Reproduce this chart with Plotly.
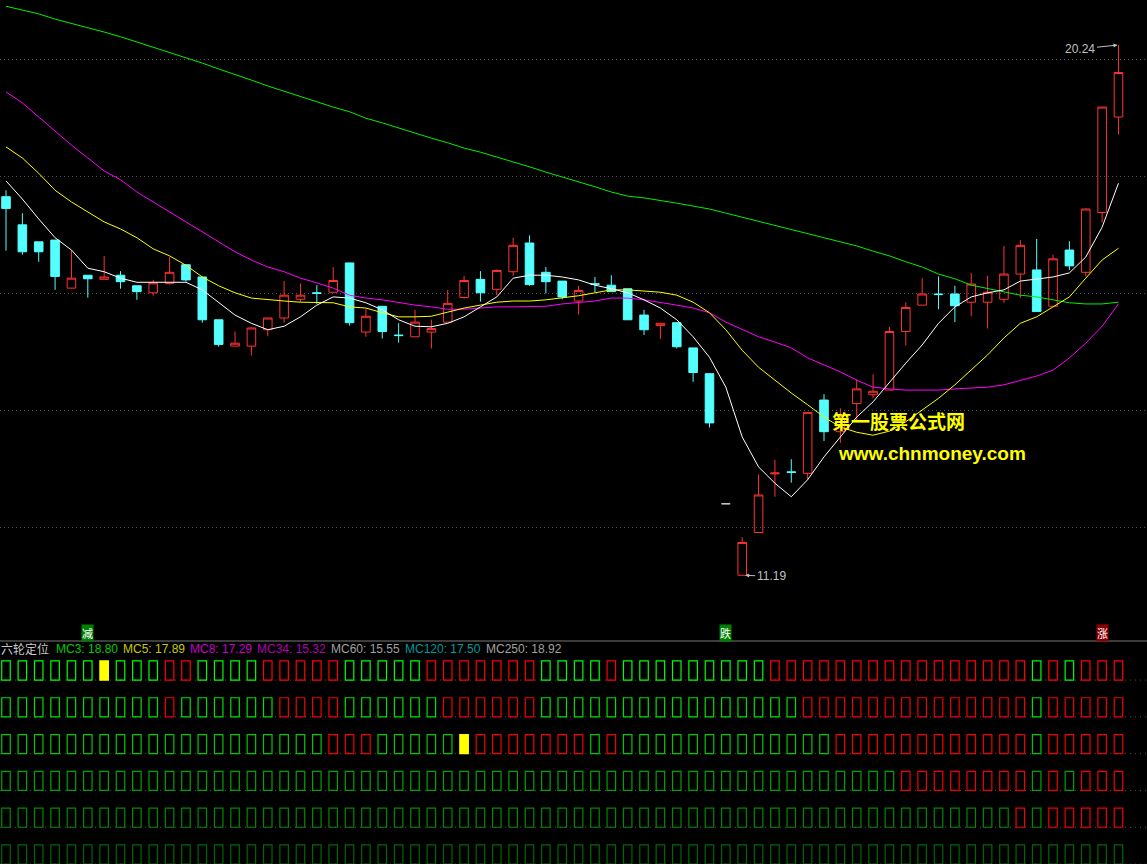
import plotly.graph_objects as go

W, H = 1147, 864

# ---------------- data ----------------
n_bars = 69
x_idx = list(range(n_bars))

opens = [17.65, 17.17, 16.88, 16.91, 16.09, 16.31, 16.24, 16.31, 16.13, 16.01,
         16.17, 16.49, 16.28, 15.55, 15.10, 15.10, 15.38, 15.58, 15.90, 16.01,
         16.02, 16.52, 15.34, 15.78, 15.29, 15.26, 15.34, 15.51, 15.93, 16.24,
         16.07, 16.37, 16.86, 16.36, 16.21, 15.87, 16.165, 16.14, 16.08, 15.63,
         15.45, 15.50, 15.07, 14.63, 12.41, 11.19, 11.92, 12.92, 12.955, 12.93,
         14.18, 13.64, 14.12, 14.27, 14.35, 15.35, 15.80, 15.99, 15.99, 15.85,
         15.85, 15.90, 16.33, 16.40, 15.78, 16.74, 16.36, 17.38, 19.01]
highs = [17.76, 17.37, 16.88, 16.91, 16.74, 16.31, 16.64, 16.38, 16.13, 16.23,
         16.62, 16.49, 16.28, 15.55, 15.35, 15.42, 15.58, 16.21, 16.17, 16.14,
         16.45, 16.52, 15.74, 15.78, 15.49, 15.72, 15.55, 16.06, 16.30, 16.38,
         16.41, 16.95, 16.99, 16.45, 16.21, 16.13, 16.28, 16.31, 16.08, 15.72,
         15.49, 15.50, 15.07, 14.63, 12.41, 11.84, 12.91, 13.16, 13.17, 13.97,
         14.28, 14.04, 14.53, 14.62, 15.43, 15.85, 16.26, 16.29, 16.13, 16.35,
         16.30, 16.81, 16.91, 16.93, 16.66, 16.89, 17.45, 19.18, 20.24]
lows = [16.73, 16.66, 16.54, 16.06, 16.09, 15.93, 16.24, 16.08, 15.89, 15.96,
        16.15, 16.20, 15.50, 15.09, 15.10, 14.94, 15.27, 15.50, 15.85, 15.82,
        16.02, 15.45, 15.26, 15.23, 15.16, 15.26, 15.06, 15.51, 15.91, 15.86,
        15.97, 16.30, 16.13, 16.00, 15.90, 15.64, 16.02, 16.03, 15.55, 15.29,
        15.22, 15.06, 14.49, 13.71, 12.41, 11.19, 11.92, 12.53, 12.77, 12.82,
        13.48, 13.45, 13.81, 14.21, 14.35, 15.11, 15.80, 15.73, 15.51, 15.61,
        15.40, 15.84, 15.92, 15.69, 15.78, 16.40, 16.29, 17.21, 18.71]
closes = [17.45, 16.71, 16.71, 16.29, 16.26, 16.25, 16.28, 16.20, 16.03, 16.18,
          16.36, 16.23, 15.55, 15.13, 15.15, 15.41, 15.58, 15.97, 15.97, 16.00,
          16.22, 15.50, 15.61, 15.35, 15.28, 15.51, 15.40, 15.83, 16.22, 16.01,
          16.39, 16.82, 16.15, 16.20, 15.94, 16.05, 16.155, 16.03, 15.55, 15.38,
          15.49, 15.09, 14.65, 13.79, 12.41, 11.75, 12.56, 12.935, 12.945, 13.97,
          13.64, 13.87, 14.37, 14.33, 15.35, 15.76, 15.99, 15.98, 15.79, 16.16,
          16.02, 16.33, 16.82, 15.69, 16.59, 16.47, 17.44, 19.18, 19.77]

ma_white = [17.92, 17.61, 17.27, 16.95, 16.74, 16.43, 16.37, 16.26, 16.19, 16.19,
            16.19, 16.19, 16.06, 15.84, 15.63, 15.49, 15.38, 15.44, 15.60, 15.80,
            15.94, 15.92, 15.84, 15.72, 15.55, 15.44, 15.43, 15.49, 15.60, 15.77,
            15.94, 16.26, 16.31, 16.31, 16.28, 16.23, 16.14, 16.08, 16.01, 15.89,
            15.75, 15.55, 15.26, 14.91, 14.40, 13.55, 13.04, 12.76, 12.53, 12.82,
            13.21, 13.55, 13.89, 14.15, 14.49, 14.81, 15.12, 15.49, 15.77, 15.94,
            16.01, 16.06, 16.21, 16.25, 16.28, 16.35, 16.62, 17.13, 17.88]
ma_yellow = [18.50, 18.31, 18.05, 17.76, 17.56, 17.39, 17.22, 17.10, 16.95, 16.76,
             16.64, 16.48, 16.28, 16.13, 16.01, 15.92, 15.89, 15.87, 15.85, 15.84,
             15.84, 15.77, 15.75, 15.67, 15.60, 15.60, 15.61, 15.68, 15.75, 15.80,
             15.85, 15.87, 15.87, 15.89, 15.92, 15.96, 16.01, 16.06, 16.06, 16.04,
             16.02, 15.97, 15.85, 15.67, 15.38, 15.03, 14.74, 14.52, 14.30, 14.10,
             13.89, 13.72, 13.63, 13.58, 13.65, 13.81, 14.01, 14.21, 14.44, 14.69,
             14.95, 15.24, 15.49, 15.60, 15.77, 15.94, 16.26, 16.57, 16.77]
ma_magenta = [19.44, 19.25, 19.01, 18.77, 18.53, 18.31, 18.09, 17.94, 17.73, 17.56,
              17.39, 17.22, 17.05, 16.88, 16.71, 16.57, 16.45, 16.37, 16.26, 16.18,
              16.09, 15.97, 15.92, 15.89, 15.84, 15.80, 15.77, 15.73, 15.73, 15.75,
              15.77, 15.77, 15.77, 15.78, 15.82, 15.84, 15.87, 15.92, 15.92, 15.89,
              15.85, 15.80, 15.75, 15.67, 15.51, 15.38, 15.26, 15.17, 15.07, 14.90,
              14.78, 14.66, 14.52, 14.40, 14.37, 14.35, 14.35, 14.35, 14.37, 14.39,
              14.40, 14.44, 14.51, 14.59, 14.69, 14.90, 15.15, 15.44, 15.82]
ma_green = [20.90, 20.84, 20.77, 20.68, 20.61, 20.53, 20.46, 20.38, 20.29, 20.20,
            20.12, 20.03, 19.93, 19.83, 19.74, 19.64, 19.54, 19.45, 19.35, 19.27,
            19.18, 19.10, 18.99, 18.91, 18.82, 18.74, 18.65, 18.57, 18.48, 18.41,
            18.33, 18.24, 18.16, 18.07, 17.99, 17.90, 17.82, 17.73, 17.66, 17.63,
            17.59, 17.54, 17.49, 17.44, 17.37, 17.30, 17.24, 17.17, 17.10, 17.03,
            16.96, 16.89, 16.81, 16.72, 16.64, 16.54, 16.45, 16.33, 16.25, 16.14,
            16.08, 16.02, 15.97, 15.94, 15.89, 15.84, 15.82, 15.82, 15.85]

price_grid = [12, 14, 16, 18, 20]

# six-wheel state rows: G = green, R = red, Y = yellow (filled)
row_states = [
    "GGGGGG" + "Y" + "GGG" + "RR" + "GGGG" + "RRRRR" + "GGGGG" + "RRRRRRR" + "GGGG" + "R"
    + "GGGGGGGGG" + "RRRRRRRRRRRRRRRR" + "G" + "R" + "G" + "RRR",
    "G" * 10 + "R" + "G" * 6 + "R" * 4 + "G" * 6 + "R" * 6 + "G" * 16 + "R" * 14 + "G" + "R" * 5,
    "G" * 20 + "R" * 3 + "G" * 5 + "Y" + "R" * 7 + "G" + "R" + "G" * 13 + "R" * 12 + "G" + "R" * 5,
    "G" * 55 + "R" * 8 + "G" + "R" + "G" + "R" * 3,
    "G" * 62 + "R" + "G" + "R" * 5,
    "G" * 69,
]

legend_names = ["六轮定位", "MC3", "MC5", "MC8", "MC34", "MC60", "MC120", "MC250"]
legend_values = [None, 18.80, 17.89, 17.29, 15.32, 15.55, 17.50, 18.92]

signal_labels = ["减", "跌", "涨"]
signal_index = [5, 44, 67]

high_label = 20.24
low_label = 11.19
high_idx = 68
low_idx = 45

# ---------------- styles ----------------
UP = "#FF3232"
DOWN = "#54FFFF"
row_greens = ["#00FF00", "#00E000", "#00C800", "#00A400", "#008A00", "#006800"]
row_reds = ["#FF0000", "#F00000", "#F00000", "#F00000", "#F00000", "#E00000"]
YEL = "#FFFF00"
legend_colors = ["#C8C8C8", "#00C800", "#C8C800", "#C800C8", "#B000B0", "#A0A0A0", "#009A9A", "#A0A0A0"]
legend_x = [0, 55, 122, 189, 256, 330, 404, 485]
signal_bg = ["#008000", "#008000", "#8B0000"]

fig = go.Figure()

flat = [i for i in x_idx if opens[i] == highs[i] == lows[i] == closes[i]]
normal = [i for i in x_idx if i not in flat]

fig.add_trace(go.Candlestick(
    x=[x_idx[i] for i in normal],
    open=[opens[i] for i in normal], high=[highs[i] for i in normal],
    low=[lows[i] for i in normal], close=[closes[i] for i in normal],
    increasing=dict(line=dict(color=UP, width=1), fillcolor="rgba(0,0,0,0)"),
    decreasing=dict(line=dict(color=DOWN, width=1), fillcolor=DOWN),
    whiskerwidth=0, hoverinfo="skip", showlegend=False, xaxis="x", yaxis="y"))

fig.add_trace(go.Candlestick(
    x=[x_idx[i] for i in flat],
    open=[opens[i] for i in flat], high=[highs[i] for i in flat],
    low=[lows[i] for i in flat], close=[closes[i] for i in flat],
    increasing=dict(line=dict(color="#C8C8C8", width=1), fillcolor="#C8C8C8"),
    decreasing=dict(line=dict(color="#C8C8C8", width=1), fillcolor="#C8C8C8"),
    whiskerwidth=0, hoverinfo="skip", showlegend=False, xaxis="x", yaxis="y"))

for vals, col in [(ma_green, "#00F000"), (ma_magenta, "#FF00FF"),
                  (ma_yellow, "#FFFF00"), (ma_white, "#FFFFFF")]:
    fig.add_trace(go.Scatter(x=x_idx, y=vals, mode="lines",
                             line=dict(color=col, width=1),
                             hoverinfo="skip", showlegend=False, xaxis="x", yaxis="y"))

# lower panel boxes
box_h = 0.52
for k, states in enumerate(row_states):
    line_cols = [row_greens[k] if s == "G" else (row_reds[k] if s == "R" else YEL) for s in states]
    fills = [YEL if s == "Y" else "rgba(0,0,0,0)" for s in states]
    fig.add_trace(go.Bar(
        x=x_idx, y=[box_h] * n_bars, base=[-k - box_h / 2] * n_bars, width=0.52,
        marker=dict(color=fills, line=dict(color=line_cols, width=1.2)),
        hoverinfo="skip", showlegend=False, xaxis="x", yaxis="y2"))

shapes = []
for k in range(len(row_states)):
    shapes.append(dict(type="line", xref="paper", x0=0, x1=1, yref="y2",
                       y0=-k - box_h / 2, y1=-k - box_h / 2,
                       line=dict(color="#505050", width=1, dash="1px,4px"), layer="below"))
shapes.append(dict(type="line", xref="paper", x0=0, x1=1, yref="paper",
                   y0=1 - 641 / H, y1=1 - 641 / H, line=dict(color="#3C3C3C", width=2)))

annotations = []
for name, val, col, xp in zip(legend_names, legend_values, legend_colors, legend_x):
    txt = name if val is None else f"{name}: {val:.2f}"
    annotations.append(dict(text=txt, x=xp / W, y=1 - 649 / H, xref="paper", yref="paper",
                            xanchor="left", yanchor="middle", showarrow=False, borderpad=0,
                            font=dict(family="Liberation Sans, Noto Sans CJK SC", size=12, color=col)))

for lab, idx, bg in zip(signal_labels, signal_index, signal_bg):
    annotations.append(dict(text=lab, x=idx, y=1 - 633 / H, xref="x", yref="paper",
                            xanchor="center", yanchor="middle", showarrow=False,
                            bgcolor=bg, borderpad=0,
                            font=dict(family="Noto Sans CJK SC", size=11, color="#FFFFFF")))

annotations.append(dict(text=f"{high_label:.2f}", x=high_idx, y=high_label, xref="x", yref="y",
                        showarrow=True, ax=-38, ay=4, arrowhead=2, arrowsize=0.8, arrowwidth=1,
                        arrowcolor="#C0C0C0", standoff=1,
                        font=dict(family="Liberation Sans", size=12, color="#C0C0C0")))
annotations.append(dict(text=f"{low_label:.2f}", x=low_idx, y=low_label, xref="x", yref="y",
                        showarrow=True, ax=29, ay=1, arrowhead=2, arrowsize=0.8, arrowwidth=1,
                        arrowcolor="#C0C0C0", standoff=3,
                        font=dict(family="Liberation Sans", size=12, color="#C0C0C0")))

# watermark texts
annotations.append(dict(text="<b>第一股票公式网</b>", x=898.5 / W, y=1 - 420 / H, xref="paper", yref="paper",
                        showarrow=False, xanchor="center", yanchor="middle",
                        font=dict(family="Noto Sans CJK SC", size=19, color="#FFFF00")))
annotations.append(dict(text="<b>www.chnmoney.com</b>", x=931.5 / W, y=1 - 453 / H, xref="paper", yref="paper",
                        showarrow=False, xanchor="center", yanchor="middle",
                        font=dict(family="Liberation Sans", size=19, color="#FFFF00")))

x0 = -6 / 16.36
x1 = (W - 6) / 16.36
fig.update_layout(
    width=W, height=H, margin=dict(l=0, r=0, t=0, b=0),
    paper_bgcolor="#000000", plot_bgcolor="#000000",
    showlegend=False, barmode="overlay", boxgap=0.25,
    xaxis=dict(range=[x0, x1], visible=False, showgrid=False, zeroline=False,
               rangeslider=dict(visible=False), fixedrange=True),
    yaxis=dict(domain=[1 - 640 / H, 1], range=[20 - 581 / 58.6, 20 + 59 / 58.6],
               tickvals=price_grid, showticklabels=False, showgrid=True,
               gridcolor="#505050", griddash="1px,3px", gridwidth=1, zeroline=False, showline=False),
    yaxis2=dict(domain=[0, 223 / H], range=[-(H - 670.5) / 36.8, (670.5 - 641) / 36.8],
                visible=False, showgrid=False, zeroline=False),
    shapes=shapes, annotations=annotations,
)

fig.write_html("out.html", config={"displayModeBar": False},
               post_script="document.body.style.margin='0';document.body.style.background='#000';")
